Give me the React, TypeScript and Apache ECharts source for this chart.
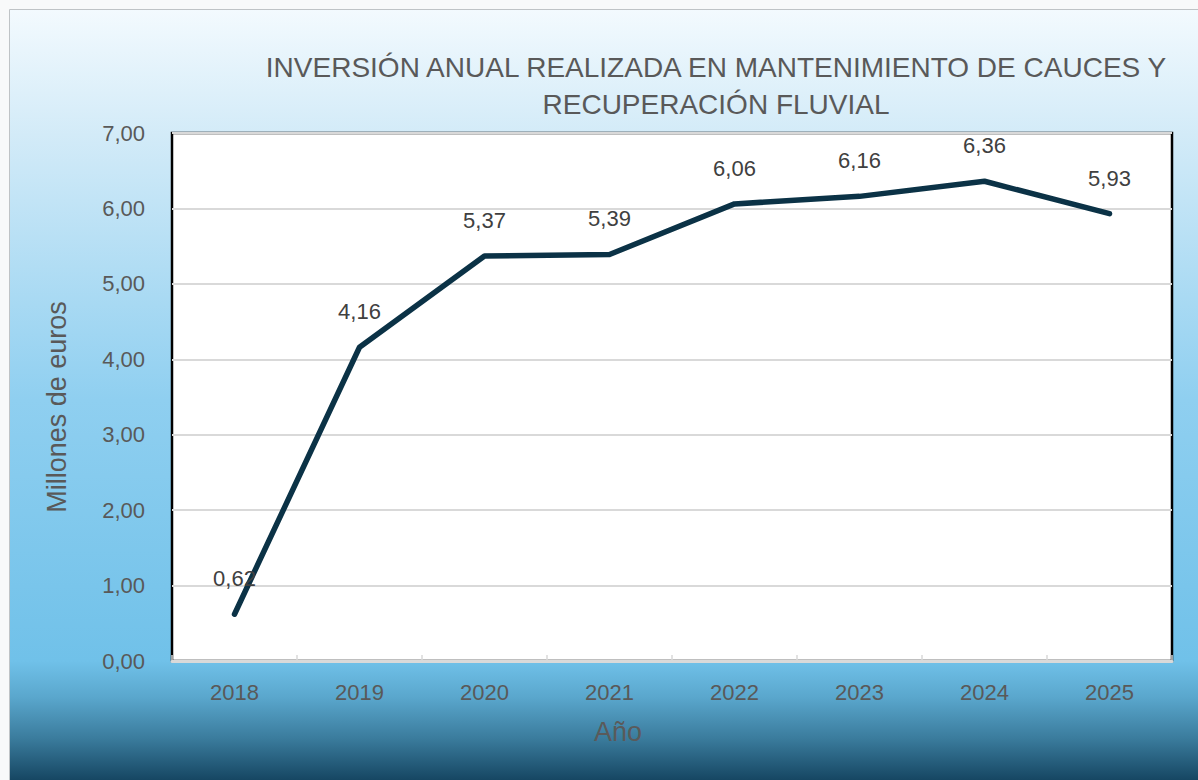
import React, { useEffect, useRef } from "react";
import * as echarts from "echarts";

const years = ["2018", "2019", "2020", "2021", "2022", "2023", "2024", "2025"];
const investment = [0.62, 4.16, 5.37, 5.39, 6.06, 6.16, 6.36, 5.93];
const titleLines = [
  "INVERSIÓN ANUAL REALIZADA EN MANTENIMIENTO DE CAUCES Y",
  "RECUPERACIÓN FLUVIAL",
];
const yAxisName = "Millones de euros";
const xAxisName = "Año";

const FONT = "'Liberation Sans', Arial, Helvetica, sans-serif";
const fmt = (v: number) => v.toFixed(2).replace(".", ",");

export default function App() {
  const ref = useRef<HTMLDivElement>(null);
  useEffect(() => {
    if (!ref.current) return;
    const chart = echarts.init(ref.current, undefined, { renderer: "svg" });
    chart.setOption({
      animation: false,
      graphic: [
        {
          type: "rect",
          z: -20,
          silent: true,
          shape: { x: 0, y: 0, width: 1198, height: 780 },
          style: { fill: "#f8f9fa" },
        },
        {
          type: "rect",
          z: -19,
          silent: true,
          shape: { x: 9.5, y: 9.5, width: 1200, height: 652 },
          style: {
            stroke: "#bfc3c6",
            lineWidth: 1,
            fill: new echarts.graphic.LinearGradient(0, 0, 0, 1, [
              { offset: 0, color: "#f3fafe" },
              { offset: 0.19, color: "#d3ebf8" },
              { offset: 0.6, color: "#8fcff0" },
              { offset: 1, color: "#70c1e9" },
            ]),
          },
        },
        {
          type: "rect",
          z: -18,
          silent: true,
          shape: { x: 10, y: 661, width: 1190, height: 120 },
          style: {
            fill: new echarts.graphic.LinearGradient(0, 0, 0, 1, [
              { offset: 0, color: "#70c1e9" },
              { offset: 0.3, color: "#5aa7cd" },
              { offset: 0.65, color: "#3a7b9c" },
              { offset: 1, color: "#154561" },
            ]),
          },
        },
        {
          type: "rect",
          z: -18,
          silent: true,
          shape: { x: 9, y: 661, width: 1, height: 120 },
          style: { fill: "#bfc3c6" },
        },
        {
          type: "text",
          z: 10,
          x: 716,
          y: 49,
          style: {
            text: titleLines.join("\n"),
            textAlign: "center",
            textVerticalAlign: "top",
            font: `28px ${FONT}`,
            lineHeight: 37,
            fill: "#595959",
          },
        },
      ],
      grid: {
        left: 172,
        top: 133,
        width: 1000,
        height: 528,
        show: true,
        backgroundColor: "#ffffff",
        borderColor: "#000000",
        borderWidth: 2.5,
      },
      xAxis: {
        type: "category",
        data: years,
        boundaryGap: true,
        name: xAxisName,
        nameLocation: "middle",
        nameGap: 57,
        nameTextStyle: {
          fontFamily: FONT,
          fontSize: 27,
          color: "#5a5a5a",
          padding: [0, 108, 0, 0],
        },
        axisLine: { show: true, lineStyle: { color: "#d9d9d9", width: 3 } },
        axisTick: {
          show: true,
          inside: true,
          length: 6,
          lineStyle: { color: "#d9d9d9", width: 1.5 },
        },
        axisLabel: {
          margin: 20,
          fontFamily: FONT,
          fontSize: 22,
          color: "#595959",
        },
        splitLine: { show: false },
      },
      yAxis: {
        type: "value",
        min: 0,
        max: 7,
        interval: 1,
        name: yAxisName,
        nameLocation: "middle",
        nameGap: 102,
        nameTextStyle: {
          fontFamily: FONT,
          fontSize: 27,
          color: "#595959",
          padding: [0, 20, 0, 0],
        },
        axisLine: { show: false },
        axisTick: { show: false },
        axisLabel: {
          margin: 27,
          fontFamily: FONT,
          fontSize: 22,
          color: "#595959",
          formatter: (v: number) => fmt(v),
        },
        splitLine: { show: true, lineStyle: { color: "#d9d9d9", width: 2 } },
      },
      series: [
        {
          type: "line",
          data: investment,
          symbol: "circle",
          symbolSize: 1,
          showSymbol: true,
          itemStyle: { color: "#0b3246" },
          lineStyle: { color: "#0b3246", width: 5.5, cap: "round", join: "round" },
          label: {
            show: true,
            position: "top",
            distance: 24,
            fontFamily: FONT,
            fontSize: 22,
            color: "#404040",
            formatter: (p: any) => fmt(p.value),
          },
          z: 5,
        },
      ],
    });
    return () => chart.dispose();
  }, []);
  return (
    <div
      ref={ref}
      style={{ position: "absolute", left: 0, top: 0, width: 1198, height: 780 }}
    />
  );
}
